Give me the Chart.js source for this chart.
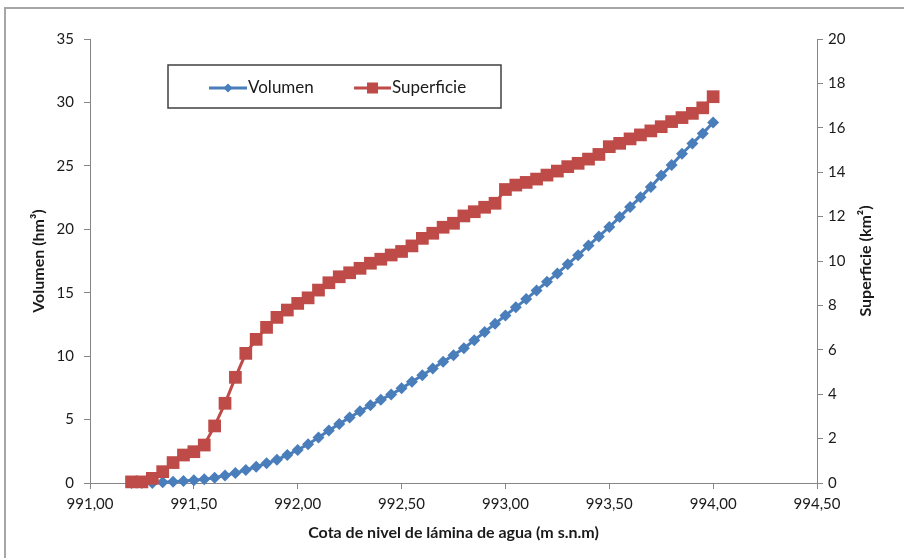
<!DOCTYPE html>
<html>
<head>
<meta charset="utf-8">
<script src="https://cdn.jsdelivr.net/npm/chart.js@4"></script>
<style>
  html, body { margin: 0; padding: 0; background: #fff; }
  #wrap { position: relative; width: 904px; height: 558px; overflow: hidden; }
  #frame { position: absolute; left: 4px; top: 7px; width: 1000px; height: 1000px;
           border-top: 2px solid #a6a6a6; border-left: 2px solid #a6a6a6; }
  #c { position: absolute; left: 0; top: 0; }
</style>
</head>
<body>
<div id="wrap">
  <div id="frame"></div>
  <canvas id="c" width="904" height="558"></canvas>
</div>
<script>
// Water level (m s.n.m) for each row of the curve table
const cotas = [
  991.20, 991.25, 991.30, 991.35, 991.40, 991.45, 991.50, 991.55, 991.60, 991.65,
  991.70, 991.75, 991.80, 991.85, 991.90, 991.95, 992.00, 992.05, 992.10, 992.15,
  992.20, 992.25, 992.30, 992.35, 992.40, 992.45, 992.50, 992.55, 992.60, 992.65,
  992.70, 992.75, 992.80, 992.85, 992.90, 992.95, 993.00, 993.05, 993.10, 993.15,
  993.20, 993.25, 993.30, 993.35, 993.40, 993.45, 993.50, 993.55, 993.60, 993.65,
  993.70, 993.75, 993.80, 993.85, 993.90, 993.95, 994.00
];

// Stored volume (hm³)
const volumen = [
  0.00, 0.00, 0.00, 0.05, 0.10, 0.16, 0.22, 0.30, 0.42, 0.60,
  0.78, 1.02, 1.28, 1.55, 1.84, 2.20, 2.60, 3.06, 3.58, 4.14,
  4.66, 5.16, 5.66, 6.12, 6.56, 6.98, 7.46, 7.98, 8.50, 9.02,
  9.56, 10.08, 10.62, 11.25, 11.90, 12.56, 13.20, 13.85, 14.50, 15.18,
  15.86, 16.52, 17.24, 17.96, 18.72, 19.44, 20.18, 20.96, 21.76, 22.52,
  23.34, 24.24, 25.06, 25.96, 26.76, 27.56, 28.42
];

// Flooded surface (km²)
const superficie = [
  0.05, 0.05, 0.21, 0.51, 0.92, 1.26, 1.41, 1.71, 2.57, 3.59,
  4.76, 5.84, 6.47, 7.01, 7.46, 7.79, 8.09, 8.34, 8.69, 9.02,
  9.29, 9.47, 9.67, 9.90, 10.08, 10.27, 10.43, 10.68, 11.02, 11.25,
  11.52, 11.70, 12.03, 12.22, 12.42, 12.60, 13.22, 13.42, 13.54, 13.69,
  13.87, 14.05, 14.25, 14.40, 14.59, 14.80, 15.15, 15.30, 15.50, 15.68,
  15.86, 16.05, 16.28, 16.46, 16.65, 16.90, 17.40
];

// Axis tick values
const cotaTicks = [991.0, 991.5, 992.0, 992.5, 993.0, 993.5, 994.0, 994.5];
const volumenTicks = [0, 5, 10, 15, 20, 25, 30, 35];
const superficieTicks = [0, 2, 4, 6, 8, 10, 12, 14, 16, 18, 20];

const seriesNames = ['Volumen', 'Superficie'];
const titleX = 'Cota de nivel de lámina de agua (m s.n.m)';
const titleVol = 'Volumen (hm³)';
const titleSup = 'Superficie (km²)';

const BLUE = '#4a7ebb';
const RED = '#be4b48';
const AXIS = '#868686';
const TEXT = '#1a1a1a';
const FONT = 'Lato, "Open Sans", sans-serif';

const toPoints = (xs, ys) => xs.map((x, i) => ({ x: x, y: ys[i] }));
const comma = v => Number(v).toFixed(2).replace('.', ',');

// Right-hand title reads bottom-to-top, drawn here rather than by the scale
const rightTitle = {
  id: 'rightTitle',
  afterDraw(chart) {
    const ctx = chart.ctx;
    ctx.save();
    ctx.translate(866, chart.chartArea.top + (chart.chartArea.bottom - chart.chartArea.top) / 2);
    ctx.rotate(-Math.PI / 2);
    ctx.font = 'bold 16px ' + FONT;
    ctx.fillStyle = TEXT;
    ctx.textAlign = 'center';
    ctx.textBaseline = 'middle';
    ctx.fillText(titleSup, 0, 0);
    ctx.restore();
  }
};

// Boxed legend placed inside the plot area
const boxLegend = {
  id: 'boxLegend',
  afterDraw(chart) {
    const ctx = chart.ctx;
    ctx.save();
    ctx.fillStyle = '#ffffff';
    ctx.fillRect(168, 65, 333, 43);
    ctx.strokeStyle = '#404040';
    ctx.lineWidth = 1.5;
    ctx.strokeRect(168, 65, 333, 43);

    const y = 88;
    // Volumen sample
    ctx.strokeStyle = BLUE;
    ctx.lineWidth = 3;
    ctx.beginPath(); ctx.moveTo(209, y); ctx.lineTo(247, y); ctx.stroke();
    ctx.fillStyle = BLUE;
    ctx.beginPath();
    ctx.moveTo(228, y - 4.5); ctx.lineTo(232.5, y); ctx.lineTo(228, y + 4.5); ctx.lineTo(223.5, y);
    ctx.closePath(); ctx.fill();
    // Superficie sample
    ctx.strokeStyle = RED;
    ctx.beginPath(); ctx.moveTo(354, y); ctx.lineTo(391, y); ctx.stroke();
    ctx.fillStyle = RED;
    ctx.fillRect(367, y - 5.5, 11, 11);

    ctx.font = '17px ' + FONT;
    ctx.fillStyle = TEXT;
    ctx.textAlign = 'left';
    ctx.textBaseline = 'middle';
    ctx.fillText(seriesNames[0], 248, y);
    ctx.fillText(seriesNames[1], 392, y);
    ctx.restore();
  }
};

const tickGrid = { display: true, drawOnChartArea: false, drawTicks: true, tickLength: 6, color: AXIS, lineWidth: 1 };
const tickFont = { family: FONT, size: 15 };

new Chart(document.getElementById('c'), {
  type: 'line',
  data: {
    datasets: [
      {
        label: seriesNames[0],
        data: toPoints(cotas, volumen),
        yAxisID: 'yVol',
        borderColor: BLUE,
        backgroundColor: BLUE,
        borderWidth: 3,
        pointStyle: 'rectRot',
        pointRadius: 6,
        pointBorderWidth: 0,
        pointBackgroundColor: BLUE,
        tension: 0,
        clip: false,
        order: 1
      },
      {
        label: seriesNames[1],
        data: toPoints(cotas, superficie),
        yAxisID: 'ySup',
        borderColor: RED,
        backgroundColor: RED,
        borderWidth: 3,
        pointStyle: 'rect',
        pointRadius: 9,
        pointBorderWidth: 0,
        pointBackgroundColor: RED,
        tension: 0,
        clip: false,
        order: 0
      }
    ]
  },
  options: {
    responsive: false,
    animation: false,
    devicePixelRatio: 1,
    layout: { padding: { top: 39, left: 0, right: 0, bottom: 0 } },
    plugins: { legend: { display: false }, tooltip: { enabled: false } },
    scales: {
      x: {
        type: 'linear',
        position: 'bottom',
        min: 991,
        max: 994.5,
        afterBuildTicks: s => { s.ticks = cotaTicks.map(v => ({ value: v })); },
        afterFit: s => { s.height = 75; },
        grid: tickGrid,
        border: { color: AXIS, width: 1 },
        ticks: { font: tickFont, color: TEXT, padding: 6, maxRotation: 0, autoSkip: false, callback: v => comma(v) },
        title: { display: true, text: titleX, color: TEXT, font: { family: FONT, size: 16, weight: 'bold' }, padding: { top: 0, bottom: 16 } }
      },
      yVol: {
        type: 'linear',
        position: 'left',
        min: 0,
        max: 35,
        afterBuildTicks: s => { s.ticks = volumenTicks.map(v => ({ value: v })); },
        afterFit: s => { s.width = 90; },
        grid: tickGrid,
        border: { color: AXIS, width: 1 },
        ticks: { font: tickFont, color: TEXT, padding: 10, autoSkip: false },
        title: { display: true, text: titleVol, color: TEXT, font: { family: FONT, size: 16, weight: 'bold' }, padding: { top: 29, bottom: 0 } }
      },
      ySup: {
        type: 'linear',
        position: 'right',
        min: 0,
        max: 20,
        afterBuildTicks: s => { s.ticks = superficieTicks.map(v => ({ value: v })); },
        afterFit: s => { s.width = 87; },
        grid: tickGrid,
        border: { color: AXIS, width: 1 },
        ticks: { font: tickFont, color: TEXT, padding: 5, autoSkip: false }
      }
    }
  },
  plugins: [boxLegend, rightTitle]
});
</script>
</body>
</html>
